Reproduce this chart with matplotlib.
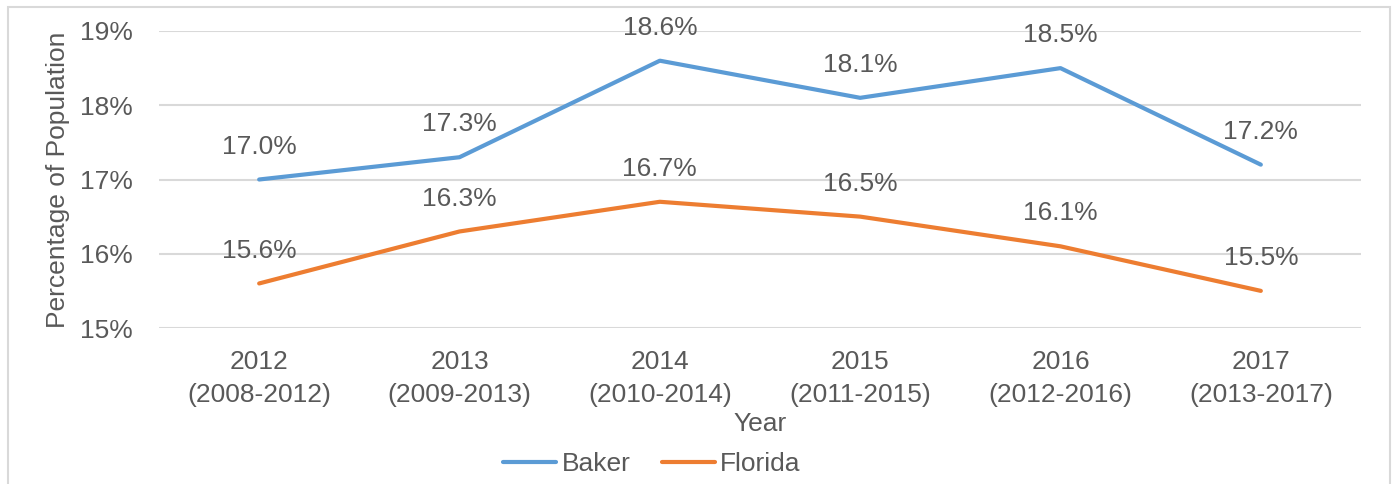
import matplotlib.pyplot as plt
from matplotlib.patches import Rectangle

years = ['2012\n(2008-2012)', '2013\n(2009-2013)', '2014\n(2010-2014)',
         '2015\n(2011-2015)', '2016\n(2012-2016)', '2017\n(2013-2017)']
baker = [17.0, 17.3, 18.6, 18.1, 18.5, 17.2]
florida = [15.6, 16.3, 16.7, 16.5, 16.1, 15.5]
yticks = [15, 16, 17, 18, 19]

plt.rcParams['font.family'] = ['Liberation Sans', 'DejaVu Sans']
grigio = '#595959'
fs = 19

fig = plt.figure(figsize=(13.93, 4.84), dpi=100)
ax = fig.add_axes([159 / 1393, 1 - 328 / 484, 1202 / 1393, 297 / 484])

# cornice grigia esterna (il bordo inferiore esce dall'immagine)
fig.patches.append(Rectangle((8 / 1393, -0.05), 1382 / 1393, 1.05 - 7 / 484,
                             transform=fig.transFigure, fill=False,
                             edgecolor='#d9d9d9', linewidth=1.5))

x = list(range(len(years)))
ax.plot(x, baker, color='#5B9BD5', linewidth=3, solid_capstyle='round', label='Baker')
ax.plot(x, florida, color='#ED7D31', linewidth=3, solid_capstyle='round', label='Florida')

for serie in (baker, florida):
    for xi, v in zip(x, serie):
        ax.annotate(f'{v:.1f}%', (xi, v), xytext=(0, 15), textcoords='offset points',
                    ha='center', va='bottom', fontsize=fs, color=grigio)

ax.set_xlim(-0.5, len(years) - 0.5)
ax.set_ylim(15, 19)
ax.set_yticks(yticks)
ax.set_yticklabels([f'{t}%' for t in yticks])
ax.set_xticks(x)
ax.set_xticklabels(years, linespacing=1.45)
ax.tick_params(axis='both', length=0, labelsize=fs, labelcolor=grigio)
ax.tick_params(axis='y', pad=19)
ax.tick_params(axis='x', pad=16)
ax.grid(axis='y', color='#d9d9d9', linewidth=1.5)
ax.set_axisbelow(True)
for s in ax.spines.values():
    s.set_visible(False)

ax.set_ylabel('Percentage of Population', fontsize=fs, color=grigio, labelpad=7)
ax.set_xlabel('Year', fontsize=fs, color=grigio, labelpad=4)

fig.legend(loc='center', bbox_to_anchor=(652 / 1393, 1 - 464 / 484), ncol=2,
           frameon=False, fontsize=fs, labelcolor=grigio, handlelength=2.0,
           handletextpad=0.2, columnspacing=1.2)

fig.savefig('out.png', dpi=100)
